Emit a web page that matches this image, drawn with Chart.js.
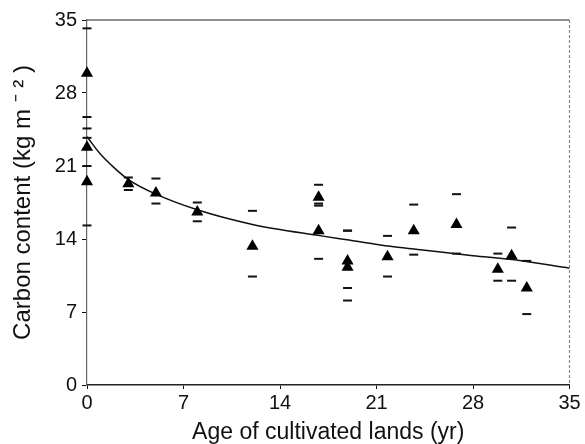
<!DOCTYPE html>
<html>
<head>
<meta charset="utf-8">
<script src="https://cdn.jsdelivr.net/npm/chart.js@4.4.1/dist/chart.umd.min.js"></script>
<style>
  html, body { margin: 0; padding: 0; background: #fff; }
  #wrap { width: 585px; height: 444px; }
</style>
</head>
<body>
<div id="wrap"><canvas id="c" width="585" height="444"></canvas></div>
<script>
// Sampled plots: age since cultivation (yr) and soil carbon content (kg m-2)
const ages      = [0, 0, 0, 3, 5, 8, 12, 16.8, 16.8, 18.9, 18.9, 21.8, 23.7, 26.8, 29.8, 30.8, 31.9];
const carbon    = [29.9, 22.8, 19.5, 19.3, 18.4, 16.6, 13.3, 18.0, 14.8, 11.9, 11.3, 12.3, 14.8, 15.4, 11.1, 12.4, 9.3];
// Upper and lower ends of each error bar
const errHigh   = [34.2, 24.6, 23.7, 19.9, 19.8, 17.5, 16.7, 19.2, 17.4, 14.8, 14.8, 14.3, 17.3, 18.3, 12.6, 15.1, 11.9];
const errLow    = [25.7, 21.0, 15.3, 18.7, 17.4, 15.7, 10.4, 17.2, 12.1, 9.3, 8.1, 10.4, 12.5, 12.6, 10.0, 10.0, 6.8];

// Fitted decline curve
const fitAges   = [0, 1, 2, 3, 5, 8, 12, 17, 19, 22, 24, 28, 31, 35];
const fitCarbon = [23.8, 22.1, 20.8, 19.7, 18.3, 16.8, 15.4, 14.3, 13.9, 13.3, 13.0, 12.4, 12.0, 11.2];

// Axis ticks
const xTicks = [0, 7, 14, 21, 28, 35];
const yTicks = [0, 7, 14, 21, 28, 35];

const ink = '#111';

const points = ages.map((a, i) => ({ x: a, y: carbon[i] }));
const fitLine = fitAges.map((a, i) => ({ x: a, y: fitCarbon[i] }));

// Short horizontal caps at both ends of each error bar
const errorCaps = {
  id: 'errorCaps',
  afterDatasetsDraw(chart) {
    const { ctx, scales: { x, y } } = chart;
    ctx.save();
    ctx.strokeStyle = ink;
    ctx.lineWidth = 2;
    ages.forEach((a, i) => {
      const px = x.getPixelForValue(a);
      [errHigh[i], errLow[i]].forEach(v => {
        const py = y.getPixelForValue(v);
        ctx.beginPath();
        ctx.moveTo(px - 4.5, py);
        ctx.lineTo(px + 4.5, py);
        ctx.stroke();
      });
    });
    ctx.restore();
  }
};

// Top and right edges of the plot frame
const frame = {
  id: 'frame',
  beforeDatasetsDraw(chart) {
    const { ctx, chartArea: a } = chart;
    ctx.save();
    ctx.strokeStyle = '#222';
    ctx.lineWidth = 1.2;
    ctx.beginPath();
    ctx.moveTo(a.left, a.top);
    ctx.lineTo(a.right, a.top);
    ctx.stroke();
    ctx.strokeStyle = '#888';
    ctx.setLineDash([3, 2]);
    ctx.beginPath();
    ctx.moveTo(a.right, a.top);
    ctx.lineTo(a.right, a.bottom);
    ctx.stroke();
    ctx.restore();
  }
};

new Chart(document.getElementById('c'), {
  type: 'scatter',
  data: {
    datasets: [
      {
        type: 'line',
        data: fitLine,
        borderColor: ink,
        borderWidth: 1.5,
        pointRadius: 0,
        cubicInterpolationMode: 'monotone',
        fill: false,
        order: 2
      },
      {
        data: points,
        pointStyle: 'triangle',
        pointRadius: 7,
        pointHoverRadius: 7,
        backgroundColor: '#000',
        borderColor: '#000',
        borderWidth: 0,
        clip: false,
        order: 1
      }
    ]
  },
  options: {
    responsive: false,
    animation: false,
    events: [],
    layout: { padding: { left: 0, top: 20, right: 15.5, bottom: 0 } },
    plugins: { legend: { display: false }, tooltip: { enabled: false } },
    scales: {
      x: {
        type: 'linear',
        min: 0, max: 35,
        afterBuildTicks(s) { s.ticks = xTicks.map(v => ({ value: v })); },
        afterFit(s) { s.height = 59; },
        ticks: { color: ink, font: { family: 'Liberation Sans', size: 20 }, padding: 2, maxRotation: 0 },
        grid: { drawOnChartArea: false, drawTicks: true, tickLength: 4, color: ink, tickWidth: 1 },
        border: { display: true, color: '#222', width: 1.5 },
        title: {
          display: true,
          text: 'Age of cultivated lands (yr)',
          color: ink,
          font: { family: 'Liberation Sans', size: 23, lineHeight: 1 },
          padding: { top: 0, bottom: 0 }
        }
      },
      y: {
        type: 'linear',
        min: 0, max: 35,
        afterBuildTicks(s) { s.ticks = yTicks.map(v => ({ value: v })); },
        afterFit(s) { s.width = 87; },
        ticks: { color: ink, font: { family: 'Liberation Sans', size: 20 }, padding: 5 },
        grid: { drawOnChartArea: false, drawTicks: true, tickLength: 5, color: ink, tickWidth: 1 },
        border: { display: true, color: '#666', width: 1.2 },
        title: {
          display: true,
          text: 'Carbon content (kg m \u207B \u00B2 )',
          color: ink,
          font: { family: 'Liberation Sans', size: 24, lineHeight: 1 },
          padding: { top: 11.5, bottom: 0 }
        }
      }
    }
  },
  plugins: [frame, errorCaps]
});
</script>
</body>
</html>
